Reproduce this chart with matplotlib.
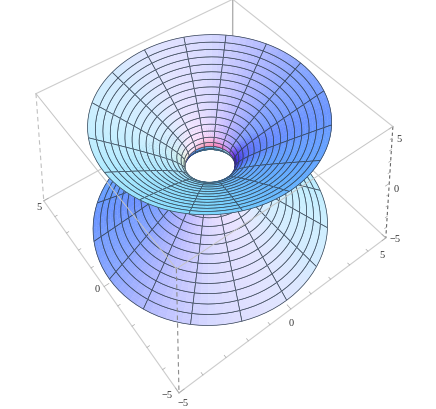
# Hyperboloid of one sheet inside a perspective box, drawn on a plain 2D axes.

import matplotlib

matplotlib.use("Agg")
import matplotlib.pyplot as plt
import numpy as np
from matplotlib.collections import PolyCollection

# mesh
SPOKE_DEG = [0, 22.5, 45, 67.5, 90, 112.5, 135, 157.5, 180, 202.5, 225, 247.5, 270, 292.5, 315, 337.5]
RING_Z = [0.0, 0.29, 0.58, 0.87, 1.16, 1.45, 1.74, 2.03, 2.32, 2.61, 2.9, 3.19, 3.48, 3.77, 4.06, 4.35, 4.65]
AXIS_TICKS = [-5, -4, -3, -2, -1, 0, 1, 2, 3, 4, 5]
TICK_LABELS = ["\u22125", "0", "5"]

# box corners in the world and where they land in the picture (pixels)
BOX_WORLD = [(-5, -5, -5), (-5, 5, -5), (5, -5, -5), (5, 5, -5), (-5, -5, 5), (-5, 5, 5), (5, -5, 5), (5, 5, 5)]
BOX_PIXEL = [(178, 393), (45, 202), (386, 238), (232, 95), (177, 268), (35, 93), (393, 127), (233, 0)]


def fit_camera(world, pixel):
  rows = []
  for (x, y, z), (u, v) in zip(world, pixel):
    rows.append([x, y, z, 1, 0, 0, 0, 0, -u * x, -u * y, -u * z, -u])
    rows.append([0, 0, 0, 0, x, y, z, 1, -v * x, -v * y, -v * z, -v])
  _, _, vt = np.linalg.svd(np.array(rows, dtype=float))
  return vt[-1].reshape(3, 4)


CAM = fit_camera(BOX_WORLD, BOX_PIXEL)
CAM_POS = np.linalg.solve(CAM[:, :3], -CAM[:, 3])
FWD = -CAM_POS / np.linalg.norm(CAM_POS)
UP = np.array([0.0, 0.0, 1.0]) - FWD[2] * FWD
UP /= np.linalg.norm(UP)
RIGHT = np.cross(FWD, UP)


def project(pts):
  pts = np.atleast_2d(pts)
  h = CAM @ np.c_[pts, np.ones(len(pts))].T
  return (h[:2] / h[2]).T


def surf(theta, z):
  r = np.sqrt(1 + z * z)
  return np.array([r * np.cos(theta), r * np.sin(theta), z])


def shade(theta, z, upper):
  # normal always has a positive world z part: inner on the top half, outer on the bottom
  r = np.sqrt(1 + z * z)
  radial = np.array([np.cos(theta), np.sin(theta), 0.0])
  n = (-radial if upper else radial) * abs(z) + np.array([0, 0, 1.0]) * r
  n = (-radial if upper else radial) * r + np.array([0, 0, 1.0]) * abs(z)
  n /= np.linalg.norm(n)
  nx, ny, nz = n @ RIGHT, n @ UP, -(n @ FWD)
  red = 0.68 + 0.25 * nx + (-0.55 * ny if ny < 0 else -0.2 * ny)
  green = 0.85 + (0.12 * nx if nx > 0 else 0.33 * nx) - 0.8 * max(0.0, -ny - 0.5)
  blue = 1.0 - 0.8 * max(0.0, -ny - 0.5) - 0.6 * max(0.0, abs(nx) - 0.75)
  if nx < -0.7:
    red -= 0.6 * (-nx - 0.7)
    green -= 1.6 * (-nx - 0.7)
  if nz < 0.2:
    # faces away from the viewer: the front wall of the top half
    dim = 0.75 + 0.25 * max(nz + 0.8, 0.0)
    red, green, blue = red * dim, green * dim, min(blue, 1.0) * (0.5 + 0.5 * dim)
  return np.clip([red, green, blue], 0, 1)


def add_half(ax, upper, base_z):
  sign = 1 if upper else -1
  spokes = np.radians(SPOKE_DEG + [360])
  cells = []
  for i in range(len(RING_Z) - 1):
    for j in range(len(spokes) - 1):
      zs = np.linspace(RING_Z[i], RING_Z[i + 1], 3) * sign
      ts = np.linspace(spokes[j], spokes[j + 1], 7)
      center = surf(ts[3], zs[1])
      cells.append((np.linalg.norm(center - CAM_POS), zs, ts))
  cells.sort(key=lambda c: -c[0])

  for k, (_, zs, ts) in enumerate(cells):
    polys, colors = [], []
    for a in range(len(zs) - 1):
      for b in range(len(ts) - 1):
        quad = [surf(ts[b], zs[a]), surf(ts[b + 1], zs[a]), surf(ts[b + 1], zs[a + 1]), surf(ts[b], zs[a + 1])]
        polys.append(project(np.array(quad)))
        colors.append(shade((ts[b] + ts[b + 1]) / 2, (zs[a] + zs[a + 1]) / 2, upper))
    order = base_z + k * 0.001
    ax.add_collection(PolyCollection(polys, facecolors=colors, edgecolors=colors, linewidths=0.3, zorder=order))
    ring = project(np.array([surf(t, zs[-1]) for t in ts]))
    ring0 = project(np.array([surf(t, zs[0]) for t in ts]))
    spoke = project(np.array([surf(ts[0], z) for z in zs]))
    spoke1 = project(np.array([surf(ts[-1], z) for z in zs]))
    for line in (ring, ring0, spoke, spoke1):
      ax.plot(line[:, 0], line[:, 1], color="#2f3d4d", lw=0.5, zorder=order + 0.0005, solid_capstyle="butt")


def box_edge(ax, a, b, zorder, **style):
  seg = project(np.array([BOX_WORLD[a], BOX_WORLD[b]]))
  ax.plot(seg[:, 0], seg[:, 1], zorder=zorder, **style)


def add_ticks(ax, start, axis, inward, zorder):
  for t in AXIS_TICKS:
    p = np.array(BOX_WORLD[start], dtype=float)
    p[axis] = t
    size = 0.3 if t in (-5, 0, 5) else 0.15
    seg = project(np.array([p, p + size * np.array(inward)]))
    ax.plot(seg[:, 0], seg[:, 1], color="#a8a8a8", lw=0.5, zorder=zorder)


def main():
  fig = plt.figure(figsize=(4.36, 4.09), dpi=100)
  ax = fig.add_axes([0, 0, 1, 1])
  ax.set_xlim(0, 436)
  ax.set_ylim(409, 0)
  ax.axis("off")

  light = dict(color="#cccccc", lw=0.8)
  dashed = dict(color="#c0c0c0", lw=0.8, ls=(0, (4, 3)))
  # back and outer edges
  for a, b in [(7, 5), (7, 6), (1, 0), (0, 2), (1, 3), (2, 3)]:
    box_edge(ax, a, b, 1, **light)
  box_edge(ax, 7, 3, 1, color="#b0b0b0", lw=1.0)
  box_edge(ax, 5, 1, 1, **dashed)
  box_edge(ax, 6, 2, 1, color="#666666", lw=0.8, ls=(0, (3, 2.5)))
  add_ticks(ax, 0, 1, (0.7, 0, 0), 1)
  add_ticks(ax, 0, 0, (0, 0.7, 0), 1)
  add_ticks(ax, 6, 2, (-0.7, 0, 0), 1)

  add_half(ax, False, 2)

  # edges meeting the near top corner sit over the lower half
  for a, b in [(4, 5), (4, 6)]:
    box_edge(ax, a, b, 4, color="#c4c4c4", lw=0.7)
  box_edge(ax, 4, 0, 4, color="#8c8c8c", lw=0.8, ls=(0, (4, 3)))

  add_half(ax, True, 5)

  text_style = dict(family="Liberation Serif", fontsize=7.5, color="#333333", ha="center", va="center", zorder=10)
  ax.text(399, 140, TICK_LABELS[2], **text_style)
  ax.text(396, 190, TICK_LABELS[1], **text_style)
  ax.text(395, 240, TICK_LABELS[0], **text_style)
  ax.text(382, 255, TICK_LABELS[2], **text_style)
  ax.text(291, 324, TICK_LABELS[1], **text_style)
  ax.text(183, 403, TICK_LABELS[0], **text_style)
  ax.text(167, 395, TICK_LABELS[0], **text_style)
  ax.text(97, 290, TICK_LABELS[1], **text_style)
  ax.text(39, 207, TICK_LABELS[2], **text_style)

  fig.savefig("out.png", dpi=100)


if __name__ == "__main__":
  main()
